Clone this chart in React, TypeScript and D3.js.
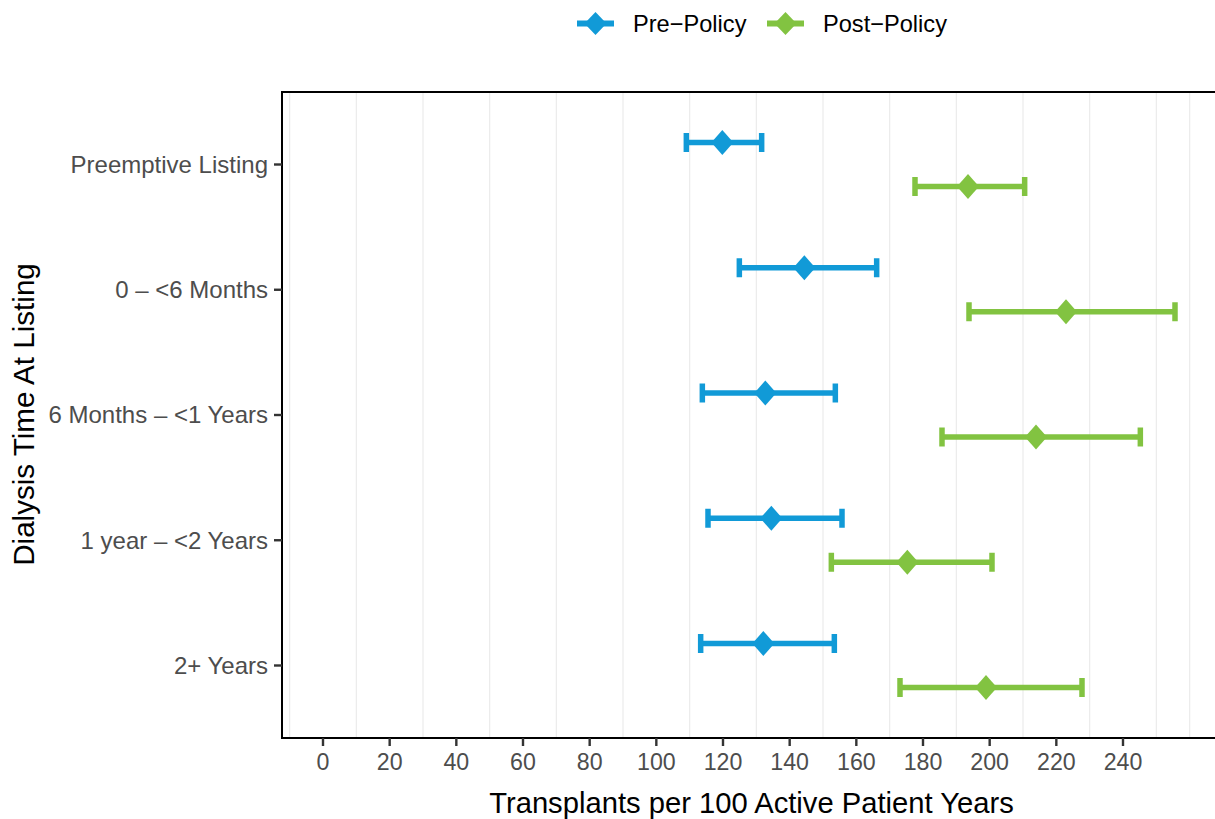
import React from "react";
import * as d3 from "d3";

const categories = [
  "Preemptive Listing",
  "0 – <6 Months",
  "6 Months – <1 Years",
  "1 year – <2 Years",
  "2+ Years",
];
const seriesNames = ["Pre−Policy", "Post−Policy"];
const preEstimate = [119.8, 144.4, 132.7, 134.5, 132.1];
const preLower = [109.0, 124.9, 113.8, 115.5, 113.3];
const preUpper = [131.6, 166.1, 153.7, 155.7, 153.4];
const postEstimate = [193.5, 222.9, 213.9, 175.3, 198.9];
const postLower = [177.6, 193.8, 185.7, 152.5, 173.1];
const postUpper = [210.5, 255.6, 245.2, 200.7, 227.7];
const xTicks = [0, 20, 40, 60, 80, 100, 120, 140, 160, 180, 200, 220, 240];
const gridValues = [-10, 10, 30, 50, 70, 90, 110, 130, 150, 170, 190, 210, 230, 250, 260];
const colors = ["#119AD7", "#82C341"];

const W = 1215;
const H = 819;
const panel = { left: 282, top: 92, bottom: 738, right: 1240 };

export default function App() {
  const x = d3.scaleLinear().domain([0, 240]).range([323, 1123]);
  const y = d3.scalePoint<string>().domain(categories).range([164.5, 665.5]);
  const dodge = d3.scaleOrdinal<string, number>().domain(seriesNames).range([-22, 22]);
  const color = d3.scaleOrdinal<string, string>().domain(seriesNames).range(colors);

  const series = [
    { name: seriesNames[0], est: preEstimate, lo: preLower, hi: preUpper },
    { name: seriesNames[1], est: postEstimate, lo: postLower, hi: postUpper },
  ];

  const lw = 5.5;
  const capH = 9.5;
  const dw = 11;
  const dh = 12.5;
  const diamond = (cx: number, cy: number) =>
    `M${cx},${cy - dh}L${cx + dw},${cy}L${cx},${cy + dh}L${cx - dw},${cy}Z`;

  const font = "'Liberation Sans', Arial, Helvetica, sans-serif";

  const legendItems = [
    { name: seriesNames[0], x0: 577, textX: 633 },
    { name: seriesNames[1], x0: 767, textX: 823 },
  ];

  return (
    <svg
      width={W}
      height={H}
      style={{ position: "absolute", left: 0, top: 0, background: "#fff" }}
      fontFamily={font}
    >
      <rect x={0} y={0} width={W} height={H} fill="#fff" />
      {/* grid */}
      {gridValues.map((g) => (
        <line
          key={"g" + g}
          x1={x(g)}
          x2={x(g)}
          y1={panel.top}
          y2={panel.bottom}
          stroke="#EBEBEB"
          strokeWidth={1.2}
        />
      ))}
      {/* error bars and points */}
      {series.map((s) =>
        categories.map((c, i) => {
          const cy = (y(c) as number) + dodge(s.name);
          const col = color(s.name);
          return (
            <g key={s.name + c}>
              <line x1={x(s.lo[i])} x2={x(s.hi[i])} y1={cy} y2={cy} stroke={col} strokeWidth={lw} />
              <line x1={x(s.lo[i])} x2={x(s.lo[i])} y1={cy - capH} y2={cy + capH} stroke={col} strokeWidth={lw} />
              <line x1={x(s.hi[i])} x2={x(s.hi[i])} y1={cy - capH} y2={cy + capH} stroke={col} strokeWidth={lw} />
              <path d={diamond(x(s.est[i]), cy)} fill={col} />
            </g>
          );
        })
      )}
      {/* panel border */}
      <rect
        x={panel.left}
        y={panel.top}
        width={panel.right - panel.left}
        height={panel.bottom - panel.top}
        fill="none"
        stroke="#000"
        strokeWidth={2}
      />
      {/* x axis ticks */}
      {xTicks.map((t) => (
        <g key={"xt" + t}>
          <line x1={x(t)} x2={x(t)} y1={panel.bottom} y2={panel.bottom + 8} stroke="#333" strokeWidth={2.4} />
          <text x={x(t)} y={770} textAnchor="middle" fontSize={23.2} fill="#4D4D4D">
            {t}
          </text>
        </g>
      ))}
      {/* y axis ticks */}
      {categories.map((c) => (
        <g key={"yt" + c}>
          <line x1={panel.left - 8} x2={panel.left} y1={y(c)} y2={y(c)} stroke="#333" strokeWidth={2.4} />
          <text x={268} y={(y(c) as number) + 8.4} textAnchor="end" fontSize={24} fill="#4D4D4D">
            {c}
          </text>
        </g>
      ))}
      {/* axis titles */}
      <text x={751.5} y={813} textAnchor="middle" fontSize={29.2} fill="#000">
        Transplants per 100 Active Patient Years
      </text>
      <text
        transform={`translate(34,${(panel.top + panel.bottom) / 2 - 0.5}) rotate(-90)`}
        textAnchor="middle"
        fontSize={29.6}
        fill="#000"
      >
        Dialysis Time At Listing
      </text>
      {/* legend */}
      {legendItems.map((l) => {
        const col = color(l.name);
        const cy = 23.5;
        return (
          <g key={"lg" + l.name}>
            <line x1={l.x0} x2={l.x0 + 37} y1={cy} y2={cy} stroke={col} strokeWidth={6} />
            <path d={`M${l.x0 + 18.5},${cy - 11.5}L${l.x0 + 29.5},${cy}L${l.x0 + 18.5},${cy + 11.5}L${l.x0 + 7.5},${cy}Z`} fill={col} />
            <text x={l.textX} y={31.5} fontSize={23.6} fill="#000">
              {l.name}
            </text>
          </g>
        );
      })}
    </svg>
  );
}
